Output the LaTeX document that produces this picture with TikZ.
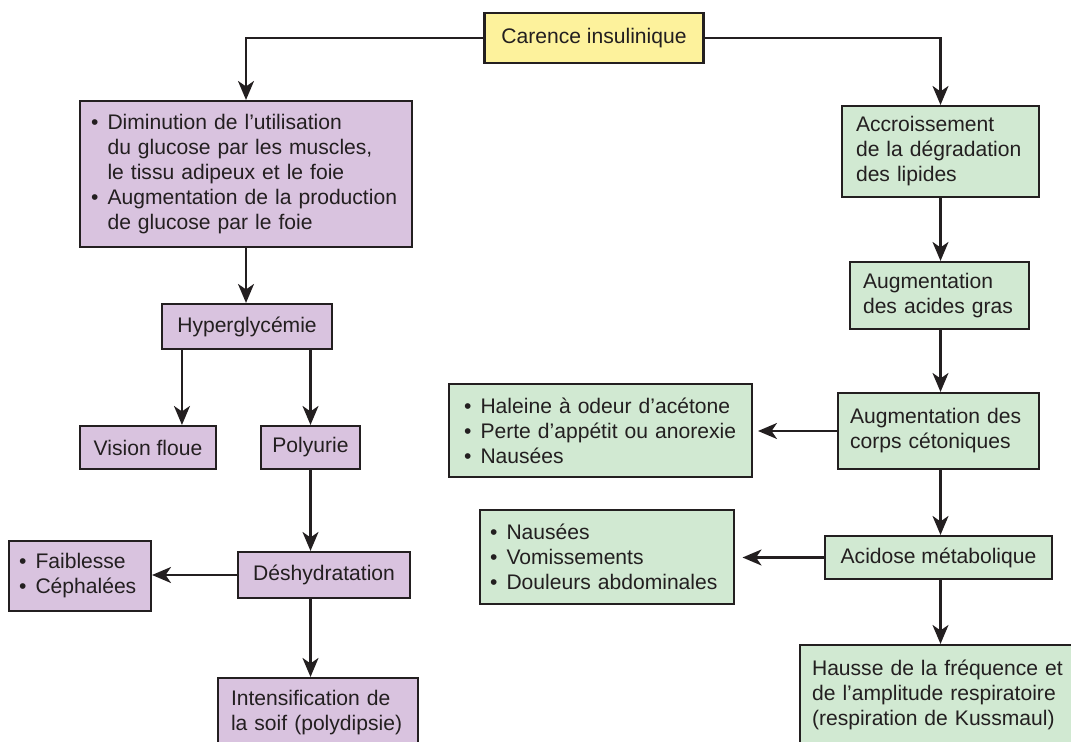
\documentclass[tikz,border=0pt]{standalone}
\usepackage{fontspec}
\setmainfont{Liberation Sans}
\usepackage{tikz}
\usetikzlibrary{shapes.geometric, arrows.meta}
\usetikzlibrary{positioning}
\definecolor{lineclr}{HTML}{231F20}
\definecolor{yellowfill}{HTML}{FDF29C}
\definecolor{purplefill}{HTML}{D9C3DF}
\definecolor{greenfill}{HTML}{D1E9D2}
\newcommand{\bul}{\makebox[0.33cm][l]{•}}
\newcommand{\ind}{\hspace*{0.33cm}}
\tikzstyle{box} = [rectangle, draw=lineclr, line width=1.2pt, text=lineclr, inner ysep=0cm, font=\fontsize{12}{14.2}\selectfont]
\tikzstyle{yellowbox} = [box, fill=yellowfill]
\tikzstyle{purplebox} = [box, fill=purplefill]
\tikzstyle{greenbox} = [box, fill=greenfill]
\tikzstyle{arrow} = [line width=1.3pt, draw=lineclr, -{Stealth[length=0.38cm, width=0.32cm, inset=0.11cm]}]

\begin{document}
\begin{tikzpicture}[x=0.02cm, y=-0.02cm]
						\useasboundingbox (0,0) rectangle (1071,742);
						\clip (0,0) rectangle (1071,742);
						\node (CI) [yellowbox, minimum width=4.38cm, minimum height=1cm] at (594,38) {Carence insulinique};
						\node (DU) [purplebox, minimum height=2.92cm, text width=6.2cm, inner xsep=0.22cm, align=left] at (246,174) {\bul Diminution de l’utilisation\\ \ind du glucose par les muscles,\\ \ind le tissu adipeux et le foie\\ \bul Augmentation de la production\\ \ind de glucose par le foie};
						\node (HG) [purplebox, minimum width=3.4cm, minimum height=0.9cm] at (247,326.5) {Hyperglycémie};
						\node (VF) [purplebox, minimum width=2.72cm, minimum height=0.86cm] at (148,447.5) {Vision floue};
						\node (PU) [purplebox, minimum width=1.98cm, minimum height=0.86cm] at (310.5,447.5) {Polyurie};
						\node (DH) [purplebox, minimum width=3.44cm, minimum height=0.92cm] at (324,575) {Déshydratation};
						\node (FC) [purplebox, minimum height=1.4cm, text width=2.44cm, inner xsep=0.2cm, align=left] at (80,576) {\bul Faiblesse\\ \bul Céphalées};
						\node (IS) [purplebox, minimum height=1.4cm, text width=3.48cm, inner xsep=0.26cm, align=left] at (318,713) {Intensification de\\ la soif (polydipsie)};
						\node (AD) [greenbox, minimum height=1.82cm, text width=3.38cm, inner xsep=0.28cm, align=left] at (940.5,151.5) {Accroissement\\ de la dégradation\\ des lipides};
						\node (AG) [greenbox, minimum height=1.34cm, text width=3.06cm, inner xsep=0.26cm, align=left] at (939.5,295.5) {Augmentation\\ des acides gras};
						\node (CC) [greenbox, minimum height=1.52cm, text width=3.54cm, inner xsep=0.24cm, align=left] at (938.5,431) {Augmentation des\\ corps cétoniques};
						\node (HA) [greenbox, minimum height=1.86cm, text width=5.46cm, inner xsep=0.3cm, align=left] at (600.5,430.5) {\bul Haleine à odeur d’acétone\\ \bul Perte d’appétit ou anorexie\\ \bul Nausées};
						\node (AM) [greenbox, minimum width=4.54cm, minimum height=0.86cm] at (938.5,557.5) {Acidose métabolique};
						\node (NV) [greenbox, minimum height=1.88cm, text width=4.68cm, inner xsep=0.2cm, align=left] at (607,557) {\bul Nausées\\ \bul Vomissements\\ \bul Douleurs abdominales};
						\node (HF) [greenbox, minimum height=2cm, text width=5.32cm, inner xsep=0.24cm, align=left] at (945,695) {Hausse de la fréquence et\\ de l’amplitude respiratoire\\ (respiration de Kussmaul)};
						\draw [arrow] (CI.west) -| (DU.north);
						\draw [arrow] (CI.east) -| (AD.north);
						\draw [arrow] (DU.south) -- (DU.south |- HG.north);
						\draw [arrow] ([xshift=0.42cm]HG.south west) -- ([xshift=0.42cm]HG.south west |- VF.north);
						\draw [arrow] (PU.north |- HG.south) -- (PU.north);
						\draw [arrow] (PU.south) -- (PU.south |- DH.north);
						\draw [arrow] (DH.west) -- (DH.west -| FC.east);
						\draw [arrow] (PU.south |- DH.south) -- (PU.south |- IS.north);
						\draw [arrow] (AD.south) -- (AD.south |- AG.north);
						\draw [arrow] (AD.south |- AG.south) -- (AD.south |- CC.north);
						\draw [arrow, shorten >=0.1cm] (CC.west) -- (CC.west -| HA.east);
						\draw [arrow] (AD.south |- CC.south) -- (AD.south |- AM.north);
						\draw [arrow, shorten >=0.15cm] (AM.west) -- (AM.west -| NV.east);
						\draw [arrow] (AD.south |- AM.south) -- (AD.south |- HF.north);
					\end{tikzpicture}
\end{document}
